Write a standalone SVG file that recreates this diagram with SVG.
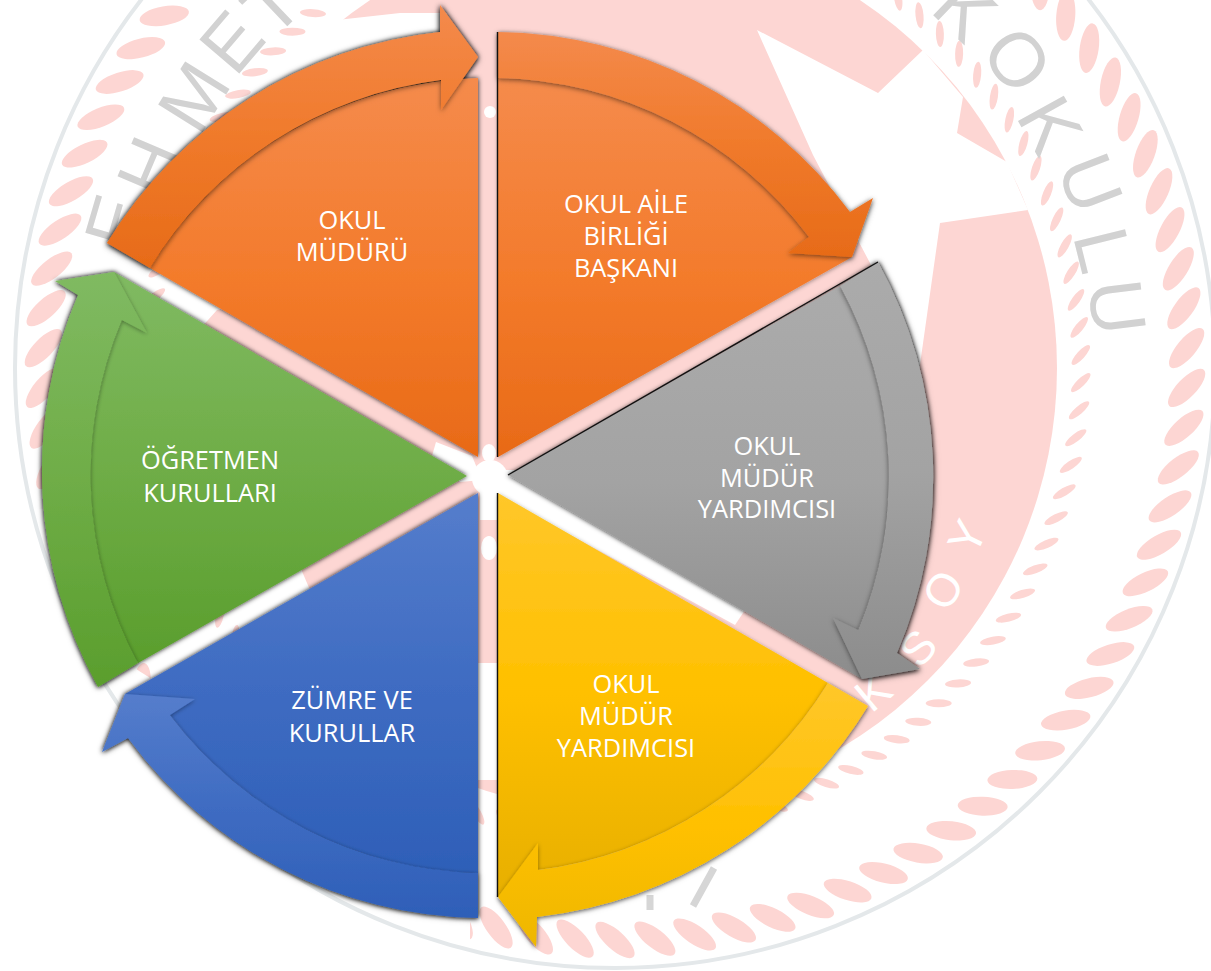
<svg xmlns="http://www.w3.org/2000/svg" width="1211" height="971" viewBox="0 0 1211 971">
<style>
.wm{font-family:"Liberation Sans",Arial,sans-serif;font-size:76px;fill:#d2d2d2;text-anchor:middle}
.wl{font-family:"Liberation Sans",Arial,sans-serif;font-size:46px;fill:#fff;text-anchor:middle}
.lb{font-family:"Open Sans","Noto Sans",sans-serif;font-size:25.4px;fill:#fff;text-anchor:middle}
.pk{fill:#fdd6d3}
.wt{fill:#fff}
.edge{fill:none;stroke:#111;stroke-width:1.4}
</style>
<defs>
<filter id="sh" x="-10%" y="-10%" width="120%" height="120%"><feDropShadow dx="0" dy="0" stdDeviation="2.8" flood-color="#000" flood-opacity=".95"/></filter>
<filter id="sl" x="-10%" y="-10%" width="120%" height="120%"><feDropShadow dx="0" dy="1" stdDeviation="2" flood-color="#000" flood-opacity=".4"/></filter>
<filter id="sa" x="-10%" y="-10%" width="120%" height="120%"><feDropShadow dx="0" dy="1.5" stdDeviation="2.4" flood-color="#000" flood-opacity=".5"/></filter>
<linearGradient id="ob" x1="0" y1="0" x2="0" y2="1"><stop offset="0" stop-color="#f58b4c"/><stop offset=".55" stop-color="#f37a2a"/><stop offset="1" stop-color="#e86a17"/></linearGradient>
<linearGradient id="oa" x1="0" y1="0" x2="0" y2="1"><stop offset="0" stop-color="#f48a4c"/><stop offset=".5" stop-color="#f07a2b"/><stop offset="1" stop-color="#e76b18"/></linearGradient>
<linearGradient id="gb" x1="0" y1="0" x2="0" y2="1"><stop offset="0" stop-color="#ababab"/><stop offset=".5" stop-color="#a3a3a3"/><stop offset="1" stop-color="#8c8c8c"/></linearGradient>
<linearGradient id="yb" x1="0" y1="0" x2="0" y2="1"><stop offset="0" stop-color="#ffc72a"/><stop offset=".5" stop-color="#ffc000"/><stop offset="1" stop-color="#e7af00"/></linearGradient>
<linearGradient id="ya" x1="0" y1="0" x2="0" y2="1"><stop offset="0" stop-color="#ffc72a"/><stop offset=".55" stop-color="#ffc000"/><stop offset="1" stop-color="#eeb700"/></linearGradient>
<linearGradient id="bb" x1="0" y1="0" x2="0" y2="1"><stop offset="0" stop-color="#557dcc"/><stop offset=".5" stop-color="#3f6cc2"/><stop offset="1" stop-color="#2e5fb8"/></linearGradient>
<linearGradient id="nb" x1="0" y1="0" x2="0" y2="1"><stop offset="0" stop-color="#80ba62"/><stop offset=".5" stop-color="#6fad47"/><stop offset="1" stop-color="#5a9e2d"/></linearGradient>
<ellipse id="b1" class="pk" cx="615" cy="-204" rx="25" ry="9.5" transform="rotate(42 615 -204)"/>
<g id="b2"><use href="#b1"/><use href="#b1" transform="rotate(4 615 368)"/></g>
<g id="b4"><use href="#b2"/><use href="#b2" transform="rotate(8 615 368)"/></g>
<g id="b8"><use href="#b4"/><use href="#b4" transform="rotate(16 615 368)"/></g>
<g id="b16"><use href="#b8"/><use href="#b8" transform="rotate(32 615 368)"/></g>
<g id="b32"><use href="#b16"/><use href="#b16" transform="rotate(64 615 368)"/></g>
<g id="b64"><use href="#b32"/><use href="#b32" transform="rotate(128 615 368)"/></g>
<ellipse id="s1" class="pk" cx="615" cy="-98" rx="13" ry="4" transform="rotate(44 615 -98)"/>
<g id="s2"><use href="#s1"/><use href="#s1" transform="rotate(3.4 615 368)"/></g>
<g id="s4"><use href="#s2"/><use href="#s2" transform="rotate(6.8 615 368)"/></g>
<g id="s8"><use href="#s4"/><use href="#s4" transform="rotate(13.6 615 368)"/></g>
<g id="s16"><use href="#s8"/><use href="#s8" transform="rotate(27.2 615 368)"/></g>
<g id="s32"><use href="#s16"/><use href="#s16" transform="rotate(54.4 615 368)"/></g>
<g id="s64"><use href="#s32"/><use href="#s32" transform="rotate(108.8 615 368)"/></g>
</defs>
<rect width="1211" height="971" fill="#fff"/>
<g id="watermark">
<circle class="pk" cx="615" cy="368" r="442"/>
<polygon class="wt" points="757,30 878,93 923,50 963,97 957,133 1007,162 1028,210 940,223 915,400 870,263 813,155"/>
<polygon class="wt" points="337,20 400,13 447,13 452,110 460,250 217,310 190,340 150,300 150,100"/>
<polygon class="wt" points="160,540 295,555 310,590 330,700 200,700"/>
<rect class="wt" x="477" y="663" width="21" height="117"/>
<polygon class="wt" points="497,470 520,470 745,610 735,625 497,495"/>
<polygon class="wt" points="436,442 472,456 482,480 460,482 432,456"/>
<circle class="wt" cx="490" cy="478" r="18"/>
<rect class="wt" x="480" y="478" width="17" height="42"/>
<ellipse class="wt" cx="489" cy="453" rx="7" ry="9"/>
<ellipse class="wt" cx="489" cy="548" rx="8" ry="12"/>
<circle class="wt" cx="490" cy="112" r="6"/>
<g><use href="#b64"/><use href="#b16" transform="rotate(256 615 368)"/><use href="#b8" transform="rotate(320 615 368)"/><use href="#b2" transform="rotate(352 615 368)"/></g>
<g><use href="#s64"/><use href="#s32" transform="rotate(217.6 615 368)"/><use href="#s8" transform="rotate(326.4 615 368)"/><use href="#s2" transform="rotate(353.6 615 368)"/></g>
<polygon class="wt" points="0,640 90,640 470,880 470,971 0,971"/>
<circle cx="615" cy="368" r="600" fill="none" stroke="#e4e8ea" stroke-width="4"/>
<text class="wm" transform="translate(965,10) rotate(44) translate(0,26)">K</text>
<text class="wm" transform="translate(1017,60) rotate(52.5) translate(0,26)">O</text>
<text class="wm" transform="translate(1050,125) rotate(61) translate(0,26)">K</text>
<text class="wm" transform="translate(1090,183) rotate(69) translate(0,26)">U</text>
<text class="wm" transform="translate(1103,250) rotate(76) translate(0,26)">L</text>
<text class="wm" transform="translate(1117,307) rotate(83) translate(0,26)">U</text>
<text class="wm" transform="translate(116,222) rotate(-73.7) translate(0,26)">E</text>
<text class="wm" transform="translate(150,167) rotate(-67) translate(0,26)">H</text>
<text class="wm" transform="translate(194,97) rotate(-58) translate(0,26)">M</text>
<text class="wm" transform="translate(232,42) rotate(-49.6) translate(0,26)">E</text>
<text class="wm" transform="translate(272,5) rotate(-43.5) translate(0,26)">T</text>
<text class="wl" transform="translate(967,537) rotate(-64) translate(0,16)">Y</text>
<text class="wl" transform="translate(943,590) rotate(-56) translate(0,16)">O</text>
<text class="wl" transform="translate(918,648) rotate(-48) translate(0,16)">S</text>
<text class="wl" transform="translate(873,692) rotate(-40) translate(0,16)">K</text>
<path d="M650,895V910M714,868L693,906" fill="none" stroke="#d6d6d6" stroke-width="7"/>
</g>
<g id="connectors"/>
<g id="node-okul-muduru">
<g filter="url(#sh)">
<path fill="url(#ob)" d="M478,457L150,268A398,398 0 0 1 478,78Z"/>
<path fill="url(#oa)" filter="url(#sa)" d="M107,243A446,446 0 0 1 440,32L440,5L478,57L441,110L441,80A398,398 0 0 0 150,268Z"/>
</g>
<text class="lb" x="352" y="229">OKUL</text>
<text class="lb" x="352" y="261">MÜDÜRÜ</text>
</g>
<g id="node-okul-aile">
<g filter="url(#sl)">
<path fill="url(#ob)" d="M498,457L498,78A398,398 0 0 1 809,237L852,257Z"/>
<path fill="url(#oa)" filter="url(#sa)" d="M498,32A446,446 0 0 1 850,212L873,198L852,257L788,253L809,237A398,398 0 0 0 498,78Z"/>
</g>
<path class="edge" d="M497.5,32V457"/>
<text class="lb" x="626" y="213">OKUL AİLE</text>
<text class="lb" x="626" y="245">BİRLİĞİ</text>
<text class="lb" x="626" y="277">BAŞKANI</text>
</g>
<g id="node-mudur-yardimcisi-1">
<g filter="url(#sh)">
<path fill="url(#gb)" d="M508,475L840,286A398,398 0 0 1 858,630L862,679Z"/>
<path fill="url(#gb)" filter="url(#sa)" d="M878,262A446,446 0 0 1 897,653L920,669L862,679L833,618L858,630A398,398 0 0 0 840,286Z"/>
</g>
<path class="edge" d="M878,262L508,475"/>
<text class="lb" x="767" y="455">OKUL</text>
<text class="lb" x="767" y="487">MÜDÜR</text>
<text class="lb" x="767" y="518">YARDIMCISI</text>
</g>
<g id="node-mudur-yardimcisi-2">
<g filter="url(#sl)">
<path fill="url(#yb)" d="M498,493L828,683A398,398 0 0 1 538,870L498,897Z"/>
<path fill="url(#ya)" filter="url(#sl)" d="M868,706A446,446 0 0 1 537,917L536,947L498,897L538,843L538,870A398,398 0 0 0 828,683Z"/>
</g>
<path class="edge" d="M497.5,493V897"/>
<text class="lb" x="626" y="693">OKUL</text>
<text class="lb" x="626" y="725">MÜDÜR</text>
<text class="lb" x="626" y="757">YARDIMCISI</text>
</g>
<g id="node-zumre">
<g filter="url(#sh)">
<path fill="url(#bb)" d="M478,493L478,873A397,397 0 0 1 170,715L125,694Z"/>
<path fill="url(#bb)" filter="url(#sl)" d="M478,918A443,443 0 0 1 128,738L102,752L125,694L195,699L170,715A398,398 0 0 0 478,873Z"/>
</g>
<text class="lb" x="352" y="709">ZÜMRE VE</text>
<text class="lb" x="352" y="742">KURULLAR</text>
</g>
<g id="node-ogretmen">
<g filter="url(#sh)">
<path fill="url(#nb)" d="M467,476L138,663A397,397 0 0 1 122,320L114,272Z"/>
<path fill="url(#nb)" filter="url(#sl)" d="M98,687A446,446 0 0 1 78,295L55,281L114,272L147,333L122,320A398,398 0 0 0 138,663Z"/>
</g>
<text class="lb" x="210" y="469">ÖĞRETMEN</text>
<text class="lb" x="210" y="502">KURULLARI</text>
</g>
</svg>
